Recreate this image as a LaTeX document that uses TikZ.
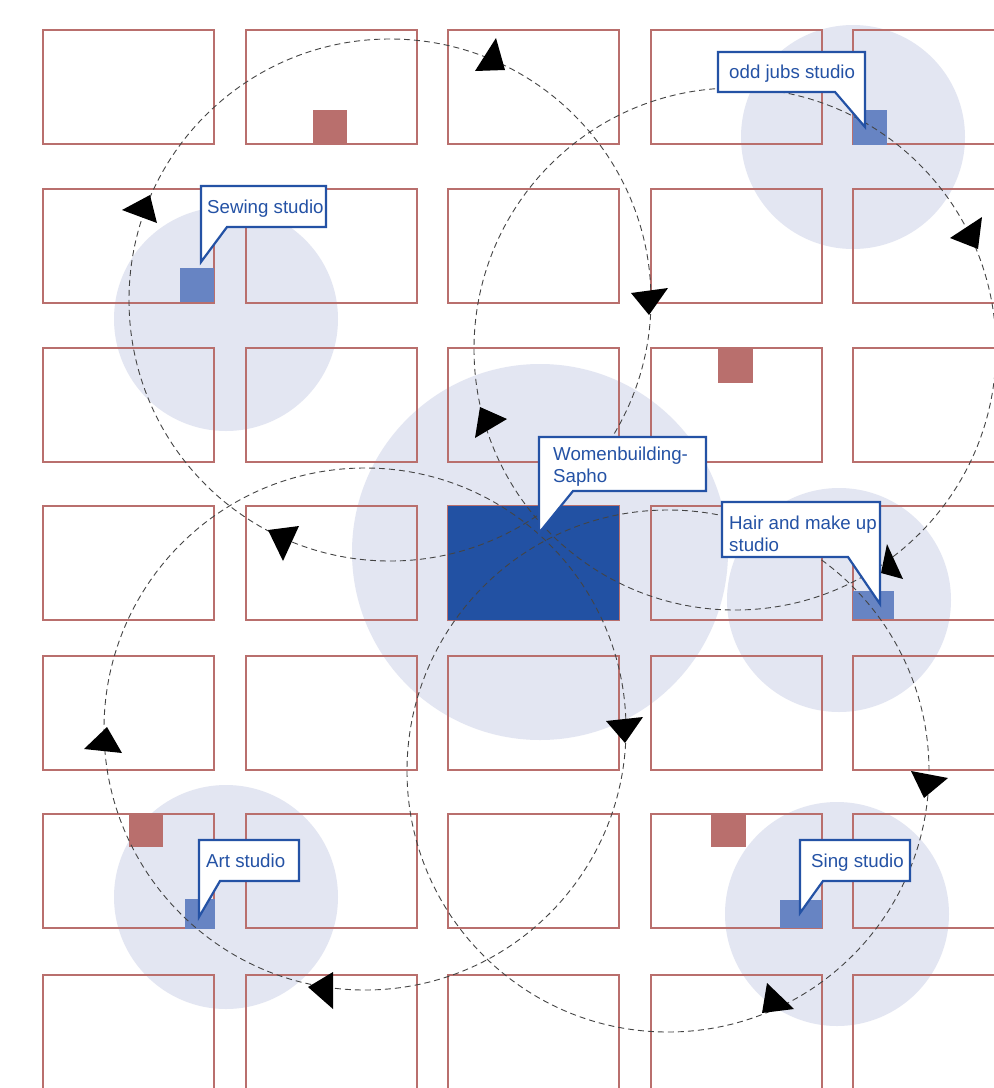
\documentclass[tikz,border=0pt]{standalone}
\usepackage{fontspec}
\setmainfont{Liberation Sans}
\definecolor{cellred}{HTML}{B96F6D}
\definecolor{zone}{HTML}{E3E6F2}
\definecolor{darkblue}{HTML}{2251A3}
\definecolor{midblue}{HTML}{6784C3}
\definecolor{lblue}{HTML}{2452A5}
\definecolor{flowgray}{HTML}{444444}
\tikzset{
  cell/.style={draw=cellred, line width=2pt, minimum width=171pt, minimum height=114pt, inner sep=0pt, outer sep=0pt, anchor=north west},
  zonecircle/.style={circle, fill=zone, draw=none, minimum size=224pt, inner sep=0pt},
  flowline/.style={draw=flowgray, line width=0.9pt, dash pattern=on 6pt off 4pt},
  tri/.style={fill=black},
  callbox/.style={fill=white, draw=lblue, line width=2.2pt, line join=miter},
  calltext/.style={text=lblue, font=\fontsize{18.7}{22}\selectfont, inner sep=0pt, anchor=base west},
}
\begin{document}
\begin{tikzpicture}[x=1pt, y=-1pt]
\useasboundingbox (0,0) rectangle (994,1088);
\clip (0,0) rectangle (994,1088);
\fill[white] (0,0) rectangle (994,1088);
% zones
\node[zonecircle] (zsew) at (226,319) {};
\node[zonecircle] (zodd) at (853,137) {};
\node[zonecircle, minimum size=376pt] (zmain) at (540,552) {};
\node[zonecircle] (zhair) at (839,600) {};
\node[zonecircle] (zart) at (226,897) {};
\node[zonecircle] (zsing) at (837,914) {};
% grid of cells
\foreach \c/\x in {1/43,2/245.5,3/448,4/650.5,5/853}{
  \foreach \r/\y in {1/30,2/189,3/348,4/506,5/656,6/814,7/975}{
    \node[cell] (c-\c-\r) at (\x,\y) {};
  }
}
% main building
\fill[darkblue] (448,506) rectangle (619,620);
% red squares
\fill[cellred] (313,110) rectangle (347,144);
\fill[cellred] (718,349) rectangle (753,383);
\fill[cellred] (129,814) rectangle (163,847);
\fill[cellred] (711,814) rectangle (746,847);
% blue squares
\fill[midblue] (180,268) rectangle (214,302);
\fill[midblue] (853,110) rectangle (887,145);
\fill[midblue] (853,591) rectangle (894,619);
\fill[midblue] (185,899) rectangle (215,929);
\fill[midblue] (780,900) rectangle (822,928);
% dashed loops
\draw[flowline] (390,300) circle[radius=261pt];
\draw[flowline] (735,349) circle[radius=261pt];
\draw[flowline] (365,729) circle[radius=261pt];
\draw[flowline] (668,771) circle[radius=261pt];
% arrowheads
\fill[tri] (496,38) -- (475,71) -- (505,70) -- cycle;
\fill[tri] (122,210) -- (150,195) -- (157,223) -- cycle;
\fill[tri] (268,530) -- (299,526) -- (283,561) -- cycle;
\fill[tri] (631,293) -- (668,288) -- (649,315) -- cycle;
\fill[tri] (480,407) -- (475,438) -- (507,419) -- cycle;
\fill[tri] (982,217) -- (950,238) -- (978,249) -- cycle;
\fill[tri] (887,544) -- (881,573) -- (903,579) -- cycle;
\fill[tri] (107,727) -- (84,749) -- (122,753) -- cycle;
\fill[tri] (308,987) -- (333,972) -- (333,1009) -- cycle;
\fill[tri] (606,721) -- (643,717) -- (625,743) -- cycle;
\fill[tri] (911,771) -- (948,778) -- (924,798) -- cycle;
\fill[tri] (767,983) -- (762,1013) -- (794,1009) -- cycle;
% callouts
\path[callbox] (201,186) -- (326,186) -- (326,227) -- (227,227) -- (201,262) -- cycle;
\node[calltext] (tsew) at (207,213) {Sewing studio};
\path[callbox] (718,52) -- (865,52) -- (865,127) -- (835,92) -- (718,92) -- cycle;
\node[calltext] (todd) at (729,78) {odd jubs studio};
\path[callbox] (539,437) -- (706,437) -- (706,491) -- (573,491) -- (539,533) -- cycle;
\node[calltext] (tmain1) at (553,460) {Womenbuilding-};
\node[calltext] (tmain2) at (553,482) {Sapho};
\path[callbox] (722,502) -- (880,502) -- (880,604) -- (848,557) -- (722,557) -- cycle;
\node[calltext] (thair1) at (729,529) {Hair and make up};
\node[calltext] (thair2) at (729,551) {studio};
\path[callbox] (199,840) -- (299,840) -- (299,881) -- (220,881) -- (199,917) -- cycle;
\node[calltext] (tart) at (206,867) {Art studio};
\path[callbox] (800,840) -- (910,840) -- (910,881) -- (823,881) -- (800,913) -- cycle;
\node[calltext] (tsing) at (811,867) {Sing studio};
\end{tikzpicture}
\end{document}
